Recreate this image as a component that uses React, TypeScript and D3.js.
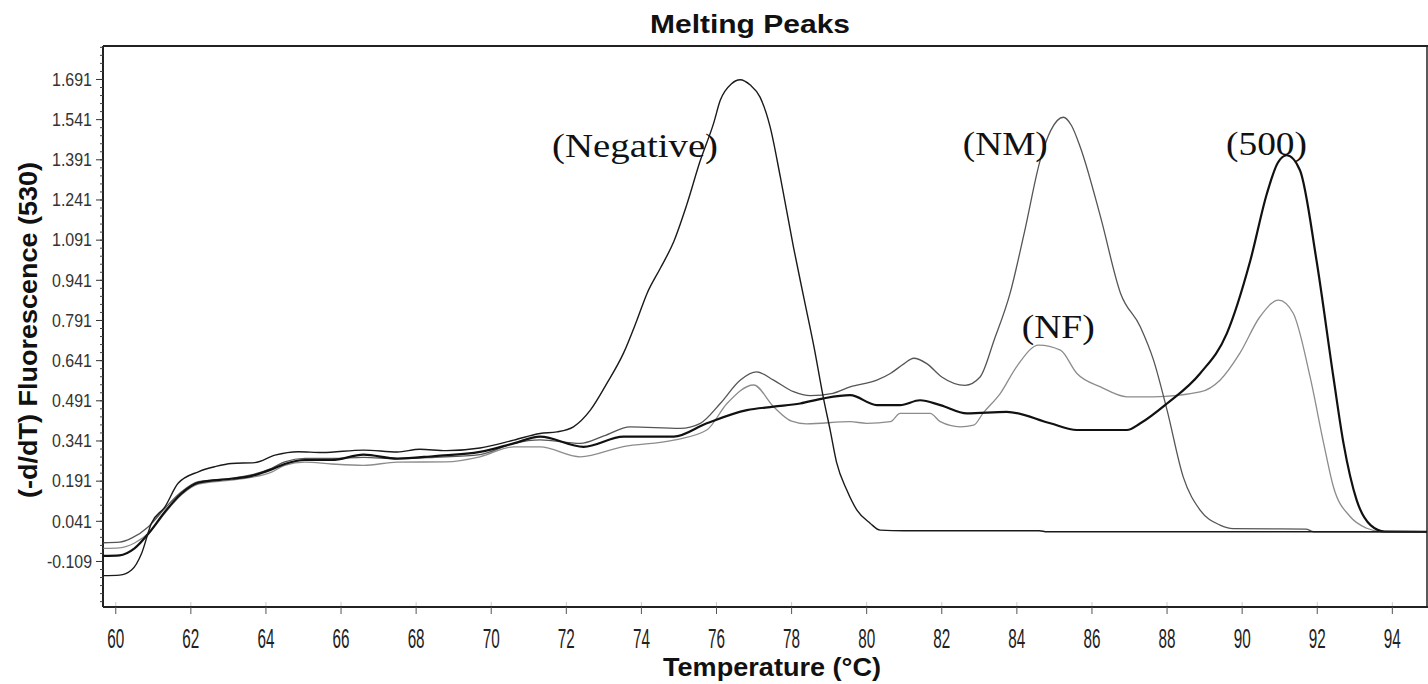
import React from 'react';
import * as d3 from 'd3';

const xTicks = [60, 62, 64, 66, 68, 70, 72, 74, 76, 78, 80, 82, 84, 86, 88, 90, 92, 94];
const yTicks = [-0.109, 0.041, 0.191, 0.341, 0.491, 0.641, 0.791, 0.941, 1.091, 1.241, 1.391, 1.541, 1.691];
const yTickLabels = ['-0.109', '0.041', '0.191', '0.341', '0.491', '0.641', '0.791', '0.941', '1.091', '1.241', '1.391', '1.541', '1.691'];

const negTemps = [59.67, 60.1, 60.42, 60.69, 60.95, 61.31, 61.66, 62.2, 62.64, 63.08, 63.7, 64.24, 64.86, 65.5, 66.6, 67.5, 68.1, 68.8, 69.7, 70.6, 71.3, 71.75, 72.19, 72.64, 73.08, 73.52, 73.88, 74.15, 74.5, 74.86, 75.2, 75.57, 75.92, 76.1, 76.4, 76.63, 76.9, 77.16, 77.43, 77.7, 78.05, 78.32, 78.6, 78.85, 79.03, 79.2, 79.47, 79.74, 80.09, 80.36, 81.0, 84.6, 84.8, 95.0];
const negValues = [-0.162, -0.16, -0.141, -0.078, 0.034, 0.095, 0.183, 0.226, 0.245, 0.257, 0.26, 0.288, 0.301, 0.298, 0.307, 0.3, 0.31, 0.305, 0.315, 0.344, 0.369, 0.375, 0.394, 0.456, 0.556, 0.668, 0.792, 0.892, 0.985, 1.085, 1.22, 1.389, 1.526, 1.613, 1.675, 1.69, 1.67, 1.625, 1.513, 1.327, 1.065, 0.88, 0.69, 0.5, 0.38, 0.26, 0.158, 0.083, 0.034, 0.008, 0.006, 0.006, 0.002, 0.002];

const nmTemps = [59.67, 60.1, 60.42, 60.87, 61.31, 61.75, 62.2, 63.08, 63.6, 64.15, 64.5, 65.04, 65.75, 66.6, 67.5, 68.5, 69.7, 70.6, 71.3, 72.37, 73.0, 73.7, 75.03, 75.57, 76.1, 76.63, 77.07, 77.52, 78.05, 78.5, 79.1, 79.56, 80.27, 80.63, 81.0, 81.25, 81.6, 82.0, 82.62, 83.02, 83.4, 83.82, 84.2, 84.62, 84.9, 85.24, 85.45, 85.69, 86.23, 86.76, 87.29, 87.64, 88.0, 88.43, 88.88, 89.41, 89.76, 91.7, 91.9, 95.0];
const nmValues = [-0.039, -0.037, -0.022, 0.021, 0.09, 0.151, 0.189, 0.201, 0.214, 0.239, 0.263, 0.276, 0.276, 0.28, 0.275, 0.28, 0.29, 0.332, 0.345, 0.332, 0.36, 0.394, 0.388, 0.407, 0.481, 0.568, 0.599, 0.568, 0.525, 0.51, 0.519, 0.543, 0.568, 0.593, 0.63, 0.65, 0.63, 0.58, 0.549, 0.58, 0.72, 0.893, 1.12, 1.389, 1.5, 1.55, 1.52, 1.438, 1.177, 0.893, 0.767, 0.643, 0.456, 0.207, 0.083, 0.027, 0.014, 0.012, 0.002, 0.002];

const nfTemps = [59.67, 60.1, 60.5, 60.9, 61.3, 61.75, 62.2, 63.08, 63.6, 64.15, 64.5, 65.04, 65.75, 66.6, 67.5, 68.8, 69.7, 70.6, 71.3, 72.37, 73.52, 74.86, 75.74, 76.28, 76.99, 77.52, 78.0, 78.4, 79.56, 80.0, 80.63, 80.89, 81.69, 81.96, 82.49, 82.85, 83.1, 83.56, 84.0, 84.58, 85.16, 85.6, 86.23, 86.93, 87.64, 88.88, 89.41, 89.94, 90.47, 90.97, 91.36, 91.81, 92.17, 92.43, 92.88, 93.32, 93.7, 95.0];
const nfValues = [-0.06, -0.058, -0.04, 0.0, 0.07, 0.14, 0.18, 0.195, 0.205, 0.225, 0.25, 0.262, 0.255, 0.25, 0.262, 0.263, 0.282, 0.319, 0.319, 0.282, 0.32, 0.344, 0.382, 0.481, 0.55, 0.469, 0.415, 0.405, 0.413, 0.407, 0.413, 0.444, 0.444, 0.413, 0.394, 0.4, 0.445, 0.519, 0.62, 0.699, 0.68, 0.593, 0.543, 0.506, 0.506, 0.524, 0.568, 0.669, 0.804, 0.867, 0.818, 0.58, 0.333, 0.17, 0.058, 0.015, 0.003, 0.002];

const s500Temps = [59.67, 60.1, 60.5, 60.9, 61.3, 61.75, 62.2, 63.08, 63.6, 64.15, 64.5, 65.04, 65.75, 66.6, 67.5, 68.5, 69.7, 70.6, 71.3, 72.46, 73.52, 74.86, 75.74, 76.81, 77.52, 78.23, 78.85, 79.56, 80.27, 80.89, 81.42, 81.96, 82.67, 83.73, 84.89, 85.6, 86.93, 87.29, 88.0, 88.88, 89.59, 90.22, 90.66, 90.95, 91.19, 91.54, 91.98, 92.43, 92.7, 93.05, 93.42, 93.8, 95.0];
const s500Values = [-0.088, -0.086, -0.06, 0.0, 0.075, 0.145, 0.185, 0.2, 0.21, 0.235, 0.255, 0.27, 0.27, 0.29, 0.275, 0.285, 0.3, 0.332, 0.357, 0.319, 0.357, 0.357, 0.407, 0.456, 0.469, 0.481, 0.5, 0.512, 0.475, 0.475, 0.493, 0.475, 0.444, 0.45, 0.407, 0.382, 0.382, 0.407, 0.481, 0.593, 0.742, 1.016, 1.265, 1.38, 1.408, 1.352, 1.016, 0.58, 0.332, 0.12, 0.027, 0.003, 0.002];

const labelTexts = ['(Negative)', '(NM)', '(NF)', '(500)'];
const labelTemps = [71.62, 82.56, 84.13, 89.57];
const labelValues = [1.402, 1.409, 0.726, 1.409];
const labelWidths = [166, 85, 73, 81];

const W = 1428;
const H = 684;

export default function App() {
  const x = d3.scaleLinear().domain([59.66, 94.95]).range([103, 1428]);
  const y = d3.scaleLinear().domain([-0.279, 1.816]).range([607, 46]);

  const series = [
    { name: 'NF', temps: nfTemps, values: nfValues, color: '#8c8c8c', width: 1.3 },
    { name: 'NM', temps: nmTemps, values: nmValues, color: '#555', width: 1.3 },
    { name: '500', temps: s500Temps, values: s500Values, color: '#111', width: 2.2 },
    { name: 'Negative', temps: negTemps, values: negValues, color: '#1a1a1a', width: 1.4 },
  ];

  const line = d3
    .line<[number, number]>()
    .x((d) => x(d[0]))
    .y((d) => y(d[1]))
    .curve(d3.curveMonotoneX);

  const [y0, y1] = y.domain();
  const minorTicks: number[] = [];
  for (let v = -0.109 - 0.15; v <= y1 + 1e-9; v += 0.03) {
    if (v >= y0) minorTicks.push(v);
  }

  const left = 103;
  const right = 1427;
  const top = 46;
  const bottom = 607;

  return (
    <svg
      width={W}
      height={H}
      style={{ position: 'absolute', left: 0, top: 0, background: '#fff' }}
      fontFamily="'Liberation Sans', Arial, sans-serif"
    >
      <rect x={0} y={0} width={W} height={H} fill="#fff" />
      <text
        x={750}
        y={33}
        textAnchor="middle"
        fontSize={25}
        fontWeight="bold"
        textLength={200}
        lengthAdjust="spacingAndGlyphs"
        fill="#111"
      >
        Melting Peaks
      </text>

      <defs>
        <clipPath id="plotClip">
          <rect x={left} y={top} width={right - left} height={bottom - top} />
        </clipPath>
      </defs>

      {xTicks.map((t) => (
        <line key={'xi' + t} x1={x(t)} x2={x(t)} y1={bottom - 5} y2={bottom} stroke="#ccc" strokeWidth={1} />
      ))}

      <line x1={left} x2={right + 1} y1={top} y2={top} stroke="#222" strokeWidth={2} />
      <line x1={left} x2={left} y1={top} y2={bottom} stroke="#222" strokeWidth={2} />
      <line x1={left} x2={right + 1} y1={bottom} y2={bottom} stroke="#222" strokeWidth={2.2} />
      <line x1={right} x2={right} y1={top} y2={bottom} stroke="#222" strokeWidth={1.5} />

      {minorTicks.map((v, i) => (
        <line key={'ym' + i} x1={left - 3} x2={left} y1={y(v)} y2={y(v)} stroke="#444" strokeWidth={1} />
      ))}
      {yTicks.map((v, i) => (
        <g key={'y' + i}>
          <line x1={left - 7} x2={left} y1={y(v)} y2={y(v)} stroke="#333" strokeWidth={1} />
          <text
            x={92}
            y={y(v)}
            dy="0.35em"
            textAnchor="end"
            fontSize={18}
            textLength={yTickLabels[i].length === 6 ? 45 : 40}
            lengthAdjust="spacingAndGlyphs"
            fill="#333"
          >
            {yTickLabels[i]}
          </text>
        </g>
      ))}

      {xTicks.map((t) => (
        <g key={'x' + t}>
          <line x1={x(t)} x2={x(t)} y1={bottom} y2={bottom + 7} stroke="#555" strokeWidth={1} />
          <text
            x={x(t)}
            y={648}
            textAnchor="middle"
            fontSize={27}
            textLength={17}
            lengthAdjust="spacingAndGlyphs"
            fill="#222"
          >
            {t}
          </text>
        </g>
      ))}

      <text
        x={772}
        y={676}
        textAnchor="middle"
        fontSize={25}
        fontWeight="bold"
        textLength={218}
        lengthAdjust="spacingAndGlyphs"
        fill="#111"
      >
        Temperature (°C)
      </text>
      <text
        transform="translate(37,330) rotate(-90)"
        textAnchor="middle"
        fontSize={25}
        fontWeight="bold"
        textLength={336}
        lengthAdjust="spacingAndGlyphs"
        fill="#111"
      >
        (-d/dT) Fluorescence (530)
      </text>

      <g clipPath="url(#plotClip)">
        {series.map((s) => (
          <path
            key={s.name}
            d={line(s.temps.map((t, i) => [t, s.values[i]] as [number, number])) || ''}
            fill="none"
            stroke={s.color}
            strokeWidth={s.width}
            strokeLinejoin="round"
          />
        ))}
      </g>

      {labelTexts.map((txt, i) => (
        <text
          key={txt}
          x={x(labelTemps[i])}
          y={y(labelValues[i])}
          fontFamily="'Liberation Serif', 'Times New Roman', serif"
          fontSize={33}
          textLength={labelWidths[i]}
          lengthAdjust="spacingAndGlyphs"
          fill="#111"
        >
          {txt}
        </text>
      ))}
    </svg>
  );
}
